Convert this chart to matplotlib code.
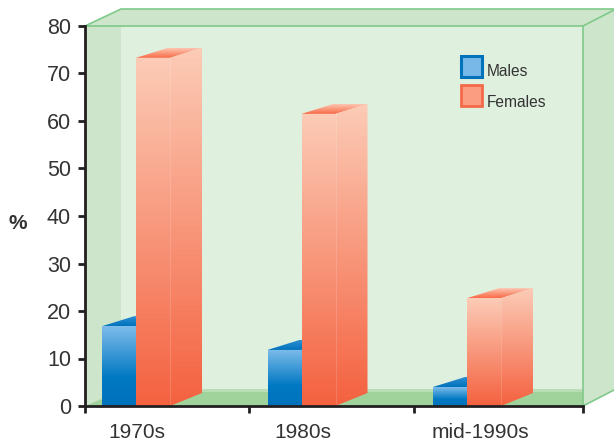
import numpy as np
from matplotlib import pyplot as plt
from matplotlib.colors import LinearSegmentedColormap
from matplotlib.patches import Polygon, Rectangle
from matplotlib.transforms import Affine2D

categories = ["1970s", "1980s", "mid-1990s"]
males = [16.8, 11.8, 4.0]
females = [73.3, 61.5, 22.7]
series_names = ["Males", "Females"]
y_ticks = list(range(0, 90, 10))

plt.rcParams['font.family'] = ['Liberation Sans', 'DejaVu Sans']
text_color = "#333333"
axis_color = "#231f20"

fig = plt.figure(figsize=(6.14, 4.42), dpi=100)
px = Affine2D().scale(1 / 614, -1 / 442).translate(0, 1) + fig.transFigure

# the box behind the bars, in pixels
wall = "#e0f0df"
band = "#cde6cb"
line = "#7fc98a"
floor = "#a0d29b"


def box(points, color, edge="none", lw=0.0, z=1):
    fig.add_artist(Polygon(points, closed=True, facecolor=color, edgecolor=edge,
                           linewidth=lw, transform=px, zorder=z))


box([(85, 26), (583, 26), (583, 406), (85, 406)], wall)
box([(85, 26), (121, 9), (121, 390), (85, 406)], band)
box([(85, 26), (121, 9), (616, 9), (583, 26)], band)
box([(583, 26), (616, 9), (616, 389), (583, 406)], band)
box([(85, 406), (121, 389), (583, 389), (583, 406)], "#bbddb6")
box([(85, 406), (121, 392), (583, 392), (583, 406)], floor)
fig.add_artist(plt.Line2D([85, 121, 616], [26, 9, 9], color=line, lw=1.2, transform=px, zorder=2))
fig.add_artist(plt.Line2D([85, 583, 616], [26, 26, 9], color=line, lw=1.2, transform=px, zorder=2))
fig.add_artist(plt.Line2D([583, 583, 616], [26, 406, 389], color=line, lw=1.2, transform=px, zorder=2))

ax = fig.add_axes([85 / 614, 36 / 442, 498 / 614, 380 / 442])
ax.set_zorder(5)
ax.patch.set_visible(False)

x_unit = 165.5
y_unit = 4.75
bar_w = 34 / x_unit
depth_x = 32 / x_unit
depth_y = 10 / y_unit
depth_base = 13 / y_unit
start = 17 / x_unit

blue_front = LinearSegmentedColormap.from_list("bf", [(0, "#0072bc"), (0.35, "#0078c2"), (1, "#7cbbea")])
blue_top = LinearSegmentedColormap.from_list("bt", ["#0072bc", "#2f8fd3"])
red_front = LinearSegmentedColormap.from_list("rf", ["#f46240", "#fccbb6"])
red_top = LinearSegmentedColormap.from_list("rt", ["#f96b48", "#fdc6b0"])
grad = np.linspace(1, 0, 64).reshape(-1, 1)


def shaded(points, cmap, z):
    pts = np.array(points)
    im = ax.imshow(grad, cmap=cmap, aspect="auto", zorder=z, vmin=0, vmax=1,
                   extent=(pts[:, 0].min(), pts[:, 0].max(), pts[:, 1].min(), pts[:, 1].max()))
    poly = Polygon(points, closed=True, transform=ax.transData, facecolor="none", edgecolor="none")
    ax.add_patch(poly)
    im.set_clip_path(poly)


def bar3d(x, h, front, top, z):
    r = x + bar_w
    shaded([(x, h), (x + depth_x, h + depth_y), (r + depth_x, h + depth_y), (r, h)], top, z)
    shaded([(r, 0), (r + depth_x, depth_base), (r + depth_x, h + depth_y), (r, h)], front, z + 1)
    shaded([(x, 0), (r, 0), (r, h), (x, h)], front, z + 2)
    return r


for i, (m, f) in enumerate(zip(males, females)):
    x0 = i + start
    edge = bar3d(x0, m, blue_front, blue_top, 3 + i * 10)
    edge = bar3d(x0 + bar_w, f, red_front, red_top, 6 + i * 10)
    ax.plot([edge, edge], [0, f], color="#ffffff", alpha=0.15, lw=0.8, zorder=9 + i * 10)

ax.set_xlim(0, 498 / x_unit)
ax.set_ylim(0, 80)
ax.set_yticks(y_ticks)
ax.set_xticks([0, 164 / x_unit, 329 / x_unit, 498 / x_unit])
ax.set_xticklabels([])
ax.set_xticks([52 / x_unit, 218 / x_unit, 395 / x_unit], minor=True)
ax.set_xticklabels(categories, minor=True)
ax.tick_params(axis="x", which="major", length=5, width=2, color=axis_color)
ax.tick_params(axis="x", which="minor", length=0, pad=12, labelsize=15, labelcolor=text_color)
ax.tick_params(axis="y", length=5, width=2, color=axis_color, pad=5, labelsize=15.5, labelcolor=text_color)
for side in ["top", "right"]:
    ax.spines[side].set_visible(False)
for side in ["left", "bottom"]:
    ax.spines[side].set_linewidth(2)
    ax.spines[side].set_color(axis_color)
    ax.spines[side].set_zorder(100)

fig.text(18 / 614, 1 - 223.5 / 442, "%", fontsize=15, fontweight="bold", color=text_color,
         ha="center", va="center")

# legend
fig.add_artist(Rectangle((460.5, 55.5), 21, 21, facecolor="#78b8e8", edgecolor="#0072bc", linewidth=2.2,
                         transform=px, zorder=6))
fig.add_artist(Rectangle((461, 84.5), 20.5, 21, facecolor="#fb9d80", edgecolor="#f4694a", linewidth=2,
                         transform=px, zorder=6))
fig.text(487 / 614, 1 - 72 / 442, series_names[0], fontsize=11.2, color=text_color, va="center", zorder=6)
fig.text(487 / 614, 1 - 102 / 442, series_names[1], fontsize=11.2, color=text_color, va="center", zorder=6)

plt.savefig("out.png", dpi=100)
